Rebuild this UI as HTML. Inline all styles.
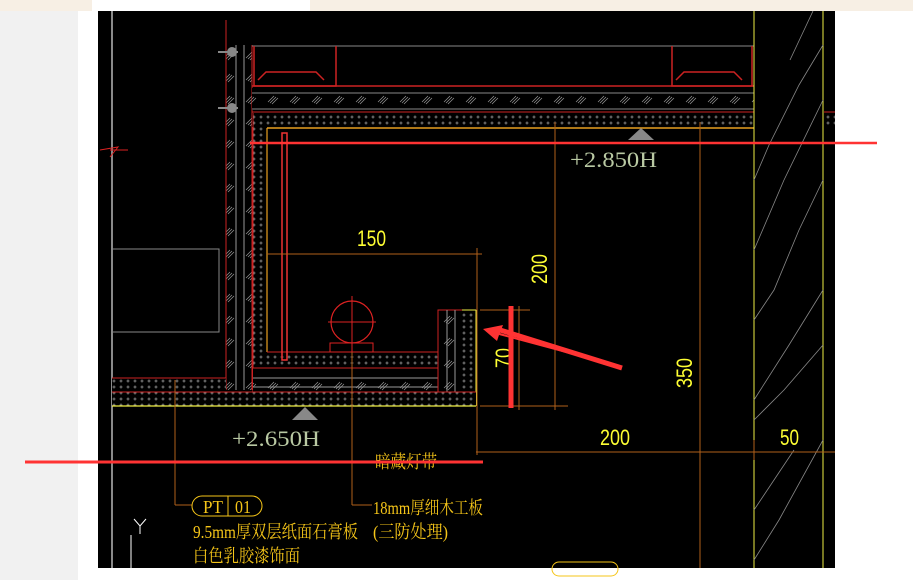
<!DOCTYPE html>
<html><head><meta charset="utf-8"><style>
html,body{margin:0;padding:0;width:913px;height:580px;overflow:hidden;background:#fff}
svg{display:block}
.t{font-family:"Liberation Sans","Noto Sans CJK SC",sans-serif}
</style></head><body>
<svg width="913" height="580" viewBox="0 0 913 580" xmlns="http://www.w3.org/2000/svg">
<defs>
<pattern id="dots" width="7" height="6" patternUnits="userSpaceOnUse">
<rect width="7" height="6" fill="#000"/>
<path d="M2 1.5v3M0.5 3h3" stroke="#9a9a9a" stroke-width="0.8"/>
</pattern>
<pattern id="hatch" width="22" height="22" patternUnits="userSpaceOnUse">
<rect width="22" height="22" fill="#000"/>
<path d="M4 14l6-6M6 15l6-6M8 16l6-6" stroke="#999" stroke-width="0.7"/>
</pattern>
</defs>
<rect x="0" y="0" width="913" height="580" fill="#fff"/>
<rect x="0" y="0" width="78" height="580" fill="#f1f1f1"/>
<rect x="0" y="0" width="913" height="11" fill="#f7efe4"/>
<rect x="92" y="0" width="218" height="11" fill="#fff"/>
<rect x="98" y="11" width="737" height="557" fill="#000"/>

<line x1="112" y1="11" x2="112" y2="568" stroke="#8a8a8a" stroke-width="2"/>
<rect x="112" y="249" width="107" height="83" fill="none" stroke="#888" stroke-width="1"/>
<path d="M100 150l18-3-8 10M110 150l18 0" stroke="#d22" fill="none"/>

<rect x="226" y="45" width="26" height="345" fill="url(#hatch)"/>
<line x1="226" y1="20" x2="226" y2="390" stroke="#c22"/>
<line x1="236" y1="45" x2="236" y2="390" stroke="#999"/>
<line x1="244" y1="45" x2="244" y2="390" stroke="#999"/>
<line x1="252" y1="45" x2="252" y2="390" stroke="#c22"/>
<circle cx="232" cy="52" r="5" fill="#888"/><circle cx="232" cy="108" r="5" fill="#888"/>
<line x1="218" y1="52" x2="238" y2="52" stroke="#888" stroke-width="2"/>
<line x1="218" y1="108" x2="238" y2="108" stroke="#888" stroke-width="2"/>

<line x1="252" y1="86" x2="754" y2="86" stroke="#c22" stroke-width="1.5"/>
<line x1="252" y1="46" x2="754" y2="46" stroke="#888"/>
<path d="M254 46v40h82V46M258 80l8-8h50l8 8" stroke="#c22" fill="none" stroke-width="1.5"/>
<path d="M672 46v40h80V46M676 80l8-8h50l8 8" stroke="#c22" fill="none" stroke-width="1.5"/>
<rect x="252" y="88" width="502" height="22" fill="url(#hatch)"/>
<line x1="252" y1="93" x2="754" y2="93" stroke="#888"/>
<line x1="252" y1="109" x2="754" y2="109" stroke="#888"/>
<line x1="252" y1="112" x2="754" y2="112" stroke="#c22"/>
<rect x="252" y="113" width="502" height="14" fill="url(#dots)"/>
<line x1="267" y1="128" x2="754" y2="128" stroke="#e8a020" stroke-width="1.5"/>
<line x1="824" y1="112" x2="835" y2="112" stroke="#c22"/>
<rect x="824" y="113" width="11" height="14" fill="url(#dots)"/>

<rect x="253" y="113" width="14" height="255" fill="url(#dots)"/>
<line x1="267" y1="128" x2="267" y2="352" stroke="#e8a020" stroke-width="1.2"/>
<line x1="253" y1="113" x2="253" y2="392" stroke="#c22"/>

<rect x="267" y="352" width="171" height="16" fill="url(#dots)"/>
<line x1="267" y1="352" x2="438" y2="352" stroke="#c22"/>
<rect x="253" y="368" width="185" height="24" fill="url(#hatch)"/>
<line x1="253" y1="368" x2="438" y2="368" stroke="#c22"/>
<line x1="253" y1="378" x2="438" y2="378" stroke="#999"/>
<line x1="253" y1="387" x2="438" y2="387" stroke="#999"/>
<rect x="438" y="310" width="24" height="82" fill="url(#hatch)"/>
<rect x="462" y="310" width="14" height="82" fill="url(#dots)"/>
<path d="M438 392V310h38v96" stroke="#c22" fill="none"/>
<line x1="447" y1="310" x2="447" y2="392" stroke="#999"/>
<line x1="455" y1="310" x2="455" y2="392" stroke="#999"/>
<line x1="462" y1="310" x2="476" y2="310" stroke="#ee4"/>
<line x1="476" y1="310" x2="476" y2="406" stroke="#ee4"/>
<rect x="112" y="378" width="114" height="14" fill="url(#dots)"/>
<line x1="112" y1="378" x2="226" y2="378" stroke="#c22"/>
<rect x="112" y="392" width="364" height="14" fill="url(#dots)"/>
<line x1="112" y1="392" x2="476" y2="392" stroke="#c22"/>
<line x1="112" y1="406" x2="476" y2="406" stroke="#ee4" stroke-width="1.2"/>

<circle cx="352" cy="322" r="21" fill="none" stroke="#d22" stroke-width="1.2"/>
<line x1="328" y1="322" x2="376" y2="322" stroke="#d22"/>
<line x1="352" y1="296" x2="352" y2="352" stroke="#d22"/>
<rect x="330" y="343" width="43" height="9" fill="none" stroke="#d22"/>
<rect x="282" y="133" width="5" height="227" fill="none" stroke="#e33" stroke-width="1.5"/>

<line x1="754" y1="11" x2="754" y2="568" stroke="#ee4"/>
<line x1="823" y1="11" x2="823" y2="568" stroke="#ee4"/>
<path d="M754 180l15-35 30-60 24-40M754 250l30-70 39-80M754 320l20-30 25-60 24-50M754 400l35-55 34-55M754 420l30-30 39-45M754 510l40-60M754 560l25-40 44-80M790 60l23-49" stroke="#888" fill="none" stroke-width="0.8"/>

<g stroke="#b0601a" stroke-width="1" fill="none">
<line x1="267" y1="254" x2="482" y2="254"/>
<line x1="477" y1="248" x2="477" y2="455"/>
<line x1="555" y1="122" x2="555" y2="410"/>
<line x1="700" y1="122" x2="700" y2="568"/>
<line x1="480" y1="406" x2="568" y2="406"/>
<line x1="480" y1="310" x2="530" y2="310"/>
<line x1="519" y1="306" x2="519" y2="410"/>
<line x1="476" y1="452" x2="835" y2="452"/>
<line x1="754" y1="440" x2="754" y2="460"/>
<line x1="175" y1="380" x2="175" y2="505"/>
<line x1="175" y1="505" x2="192" y2="505"/>
<line x1="352" y1="352" x2="352" y2="505"/>
<line x1="352" y1="505" x2="372" y2="505"/>
</g>
<g fill="#ffff33" font-family="Liberation Sans Narrow, Liberation Sans, sans-serif" font-size="22" lengthAdjust="spacingAndGlyphs">
<text x="357" y="246" textLength="29" lengthAdjust="spacingAndGlyphs">150</text>
<text x="600" y="445" textLength="30" lengthAdjust="spacingAndGlyphs">200</text>
<text x="780" y="445" textLength="19" lengthAdjust="spacingAndGlyphs">50</text>
<text transform="translate(547,284) rotate(-90)" textLength="30" lengthAdjust="spacingAndGlyphs">200</text>
<text transform="translate(511,368) rotate(-90)" textLength="20" lengthAdjust="spacingAndGlyphs">70</text>
<text transform="translate(692,388) rotate(-90)" textLength="30" lengthAdjust="spacingAndGlyphs">350</text>
</g>
<path d="M628 140l13-12 13 12z" fill="#888"/>
<path d="M292 420l13-13 13 13z" fill="#888"/>
<g fill="#b9c9a3" font-family="Liberation Serif, serif" font-size="22">
<text x="570" y="167" textLength="87" lengthAdjust="spacingAndGlyphs">+2.850H</text>
<text x="232" y="446" textLength="88" lengthAdjust="spacingAndGlyphs">+2.650H</text>
</g>
<g fill="#f5c518" font-family="Liberation Serif, Noto Serif CJK SC, serif" font-size="18">
<text x="375" y="468" textLength="62" lengthAdjust="spacingAndGlyphs">暗藏灯带</text>
<text x="373" y="514" textLength="110" lengthAdjust="spacingAndGlyphs">18mm厚细木工板</text>
<text x="373" y="538" textLength="75" lengthAdjust="spacingAndGlyphs">(三防处理)</text>
<text x="193" y="538" textLength="165" lengthAdjust="spacingAndGlyphs">9.5mm厚双层纸面石膏板</text>
<text x="193" y="562" textLength="107" lengthAdjust="spacingAndGlyphs">白色乳胶漆饰面</text>
<text x="203" y="513" textLength="20" lengthAdjust="spacingAndGlyphs">PT</text>
<text x="235" y="513" textLength="16" lengthAdjust="spacingAndGlyphs">01</text>
</g>
<rect x="192" y="496" width="70" height="20" rx="10" fill="none" stroke="#f5c518"/>
<line x1="228" y1="496" x2="228" y2="516" stroke="#f5c518"/>
<path d="M134 519l6 7 6-7M140 526v8M131 535v33" stroke="#fff" fill="none"/>
<rect x="552" y="562" width="66" height="14" rx="7" fill="none" stroke="#f5c518"/>

<line x1="250" y1="143" x2="877" y2="143" stroke="#f33" stroke-width="2.5"/>
<line x1="25" y1="462" x2="483" y2="462" stroke="#f33" stroke-width="3"/>
<line x1="511" y1="306" x2="511" y2="408" stroke="#f33" stroke-width="5"/>
<path d="M622 368L500 333l3 -8 -20 4 14 12 2 -6z" fill="#f33"/>
<line x1="622" y1="368" x2="500" y2="330" stroke="#f33" stroke-width="5"/>
</svg>
</body></html>
